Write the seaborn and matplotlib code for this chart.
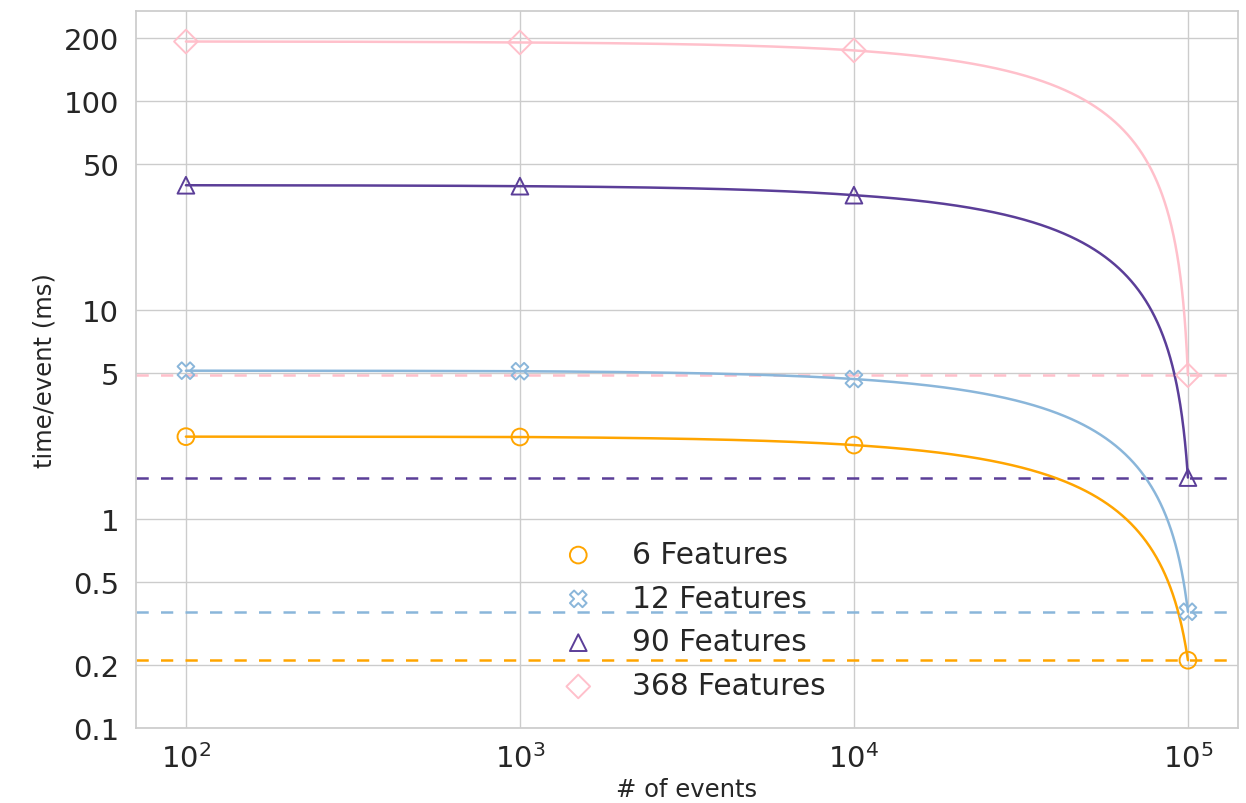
import numpy as np
import matplotlib
matplotlib.use("Agg")
import matplotlib.pyplot as plt
from matplotlib.path import Path
import seaborn as sns

# Measured time per event (ms) for each feature-set size
events = [100, 1000, 10000, 100000]
time_6 = [2.48, 2.47, 2.26, 0.211]
time_12 = [5.13, 5.10, 4.68, 0.36]
time_90 = [39.6, 39.2, 35.5, 1.58]
time_368 = [193, 191, 175, 4.88]

series_labels = ["6 Features", "12 Features", "90 Features", "368 Features"]
series_values = [time_6, time_12, time_90, time_368]
series_colors = ["#ffa500", "#8ab6da", "#5b3e98", "#ffc0cb"]
series_markers = ["o", "X", "^", "D"]

y_ticks = [0.1, 0.2, 0.5, 1, 5, 10, 50, 100, 200]

sns.set_theme(style="whitegrid")
plt.rcParams["font.family"] = ["DejaVu Sans"]

fig, ax = plt.subplots(figsize=(12.46, 8.04), dpi=100)
fig.subplots_adjust(left=0.109, right=0.9936, top=0.985, bottom=0.0933)

ax.set_xscale("log")
ax.set_yscale("log")

for label, vals, color, marker in zip(series_labels, series_values,
                                      series_colors, series_markers):
    # Segments joining the measurements are straight in linear data space;
    # subdivide the path so they keep that shape under the log transform.
    seg = Path(np.column_stack([events, vals])).interpolated(400).vertices
    sns.lineplot(x=seg[:, 0], y=seg[:, 1], color=color, linewidth=1.8,
                 estimator=None, sort=False, ax=ax, zorder=2)
    sns.scatterplot(x=events, y=vals, marker=marker, s=145,
                    facecolor="none", edgecolor=color, linewidth=1.4,
                    label=label, ax=ax, zorder=3)
    # Reference level: the value reached at the largest event count
    ax.axhline(vals[-1], color=color, linewidth=1.8,
               linestyle=(0, (4.9, 4.9)), zorder=1.5)

ax.set_ylim(0.1, 270)
ax.set_yticks(y_ticks)
ax.set_yticklabels([f"{v:g}" for v in y_ticks])
ax.yaxis.set_minor_locator(matplotlib.ticker.NullLocator())
ax.xaxis.set_minor_locator(matplotlib.ticker.NullLocator())
ax.set_xticks(events)

ax.tick_params(axis="both", which="major", labelsize=21, colors="#262626")
ax.tick_params(axis="y", pad=6)
ax.tick_params(axis="x", pad=5)

ax.set_xlabel("# of events", fontsize=17.5, color="#262626", labelpad=3)
ax.set_ylabel("time/event (ms)", fontsize=17.5, color="#262626", labelpad=5)

for spine in ax.spines.values():
    spine.set_color("#cccccc")
    spine.set_linewidth(1.25)

ax.legend(loc="center", bbox_to_anchor=(0.5, 0.1506), frameon=False,
          fontsize=21.3, labelspacing=0.5, scatterpoints=1)

fig.savefig("out.png", dpi=100)
